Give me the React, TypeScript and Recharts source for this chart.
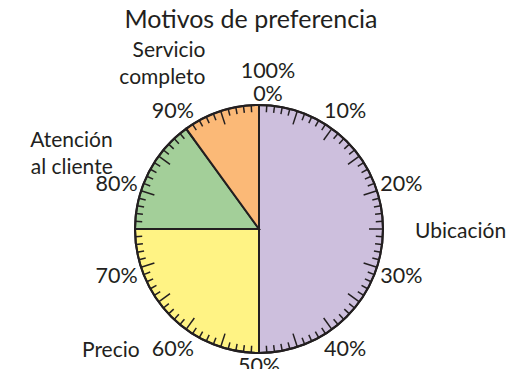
import { PieChart, Pie, Cell, PolarAngleAxis } from 'recharts';

const categories = ['Ubicación', 'Precio', 'Atención al cliente', 'Servicio completo'];
const shares = [50, 25, 15, 10];
const colors = ['#cdbfdd', '#fff384', '#a3cf99', '#fbb977'];
const tickValues = Array.from({ length: 100 }, (_, i) => i);
const tickLabels = ['0%', '10%', '20%', '30%', '40%', '50%', '60%', '70%', '80%', '90%'];

const data = categories.map((name, i) => ({ name, value: shares[i] }));

const CX = 259;
const CY = 229;
const R = 124;
const INK = '#231f20';
const FONT = 'Lato, "Open Sans", sans-serif';

const RAD = Math.PI / 180;
const polar = (r: number, angle: number) => ({
    x: CX + r * Math.cos(-angle * RAD),
    y: CY + r * Math.sin(-angle * RAD),
});

function TickMark(props: any) {
    const { payload } = props;
    const v = payload.value as number;
    const angle = payload.coordinate as number;
    const len = v % 5 === 0 ? 14 : 7;
    const p1 = polar(R, angle);
    const p2 = polar(R - len, angle);
    let label = null;
    if (v % 10 === 0) {
        // push labels out further where the text is wide (left/right sides)
        const c = Math.abs(Math.cos(angle * RAD));
        const s = Math.abs(Math.sin(angle * RAD));
        const r = 127 + 21 * c + 9 * s;
        const t = polar(r, angle);
        if (v === 0) {
            label = (
                <text x={t.x + 9} y={t.y} textAnchor="middle" dominantBaseline="central" fontSize={21.5} fill={INK} fontFamily={FONT}>
                    <tspan x={t.x + 9} dy={-23}>100%</tspan>
                    <tspan x={t.x + 9} dy={23}>0%</tspan>
                </text>
            );
        } else {
            label = (
                <text x={t.x} y={t.y} textAnchor="middle" dominantBaseline="central" fontSize={21.5} fill={INK} fontFamily={FONT}>
                    {tickLabels[v / 10]}
                </text>
            );
        }
    }
    return (
        <g>
            <line x1={p1.x} y1={p1.y} x2={p2.x} y2={p2.y} stroke={INK} strokeWidth={1.5} />
            {label}
        </g>
    );
}

function SliceLabel(props: any) {
    const { midAngle, name } = props;
    const s = Math.abs(Math.sin(midAngle * RAD));
    const p = polar(156 + 18 * s, midAngle);
    const cos = Math.cos(-midAngle * RAD);
    const anchor = cos > 0.1 ? 'start' : cos < -0.1 ? 'end' : 'middle';
    const idx = name.indexOf(' ');
    const lines = idx > 0 ? [name.slice(0, idx), name.slice(idx + 1)] : [name];
    const lh = 27;
    const y0 = p.y - ((lines.length - 1) * lh) / 2 - (lines.length - 1) * 3;
    return (
        <text x={p.x} y={y0} textAnchor={anchor} dominantBaseline="central" fontSize={21} fill={INK} fontFamily={FONT}>
            {lines.map((l, i) => (
                <tspan key={i} x={p.x} y={y0 + i * lh}>{l}</tspan>
            ))}
        </text>
    );
}

export default function App() {
    return (
        <div style={{ margin: -8, position: 'relative', width: 514, height: 377, background: '#fff' }}>
            <div style={{ position: 'absolute', left: 0, top: 3, width: 502, textAlign: 'center', fontFamily: FONT, fontSize: 25, lineHeight: '30px', color: INK }}>
                Motivos de preferencia
            </div>
            <PieChart width={514} height={377} margin={{ top: 0, right: 0, bottom: 0, left: 0 }}
                cx={CX} cy={CY} outerRadius={R} startAngle={90} endAngle={-270}>
                <Pie data={data} dataKey="value" nameKey="name" cx={CX} cy={CY} outerRadius={R}
                    startAngle={90} endAngle={-270} stroke={INK} strokeWidth={2}
                    label={SliceLabel} labelLine={false} isAnimationActive={false}>
                    {data.map((d, i) => <Cell key={d.name} fill={colors[i]} />)}
                </Pie>
                <PolarAngleAxis type="number" dataKey="value" domain={[0, 100]} ticks={tickValues}
                    tick={TickMark} tickLine={false} axisLineType="circle" stroke={INK} strokeWidth={2} />
            </PieChart>
        </div>
    );
}
